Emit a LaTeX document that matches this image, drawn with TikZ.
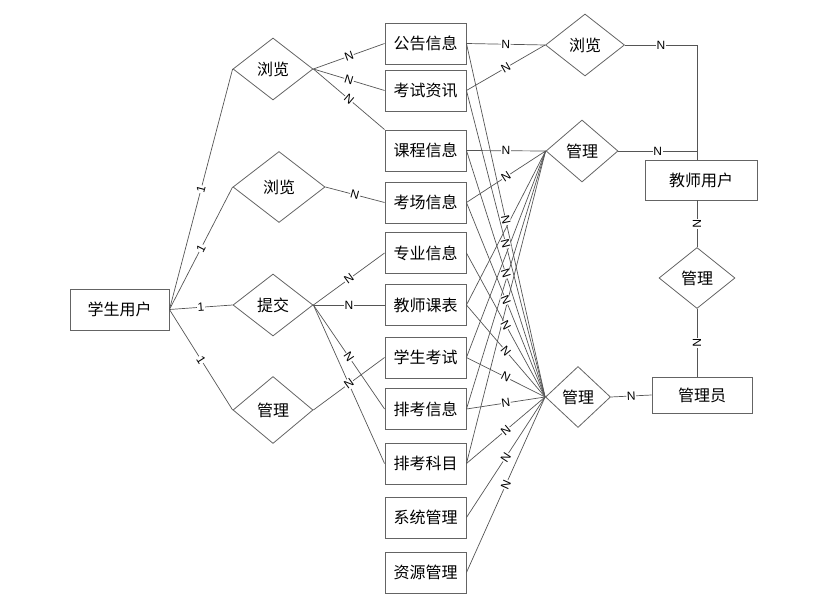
\documentclass[tikz,border=0pt]{standalone}
\usepackage{fontspec}
\setsansfont{Liberation Sans}
\newfontfamily\cjk{Noto Sans CJK SC}
\usetikzlibrary{shapes.geometric}
\definecolor{linegray}{RGB}{85,85,85}
\definecolor{boxgray}{RGB}{100,100,100}
\tikzset{
  ent/.style={draw=boxgray, line width=0.9pt, minimum width=81pt, minimum height=41pt,
    inner sep=0pt, font=\cjk\fontsize{16}{16}\selectfont},
  rel/.style={draw=boxgray, line width=0.8pt, diamond, inner sep=0pt,
    font=\cjk\fontsize{16}{16}\selectfont},
  link/.style={draw=linegray, line width=0.7pt},
  lab/.style={fill=white, inner sep=0.6pt, sloped, font=\sffamily\fontsize{12}{12}\selectfont}
}
\begin{document}
\begin{tikzpicture}[x=1pt, y=-1pt]
  \useasboundingbox (0,0) rectangle (816,609);
  % users
  \node[ent, minimum width=99pt] (stu) at (119.5,309.5) {学生用户};
  \node[ent, minimum width=112pt, minimum height=40pt] (teacher) at (701,180) {教师用户};
  \node[ent, minimum width=100pt, minimum height=36pt] (admin) at (702,395) {管理员};
  % entities
  \foreach \n/\y/\t in {e1/43.5/公告信息, e2/90.5/考试资讯, e3/150.5/课程信息,
      e4/202.5/考场信息, e5/253/专业信息, e6/305/教师课表, e7/357.5/学生考试,
      e8/409/排考信息, e9/463.5/排考科目, e10/517.5/系统管理, e11/572.5/资源管理}
    \node[ent] (\n) at (425.5,\y) {\t};
  % relations
  \node[rel, minimum width=80pt, minimum height=62pt] (b1) at (273,69) {浏览};
  \node[rel, minimum width=92pt, minimum height=71pt] (b2) at (279,187) {浏览};
  \node[rel, minimum width=80pt, minimum height=62pt] (sub) at (273,305) {提交};
  \node[rel, minimum width=80pt, minimum height=67pt] (m1) at (273,410) {管理};
  \node[rel, minimum width=79pt, minimum height=62pt] (b3) at (585,45) {浏览};
  \node[rel, minimum width=72pt, minimum height=62pt] (m2) at (582,151) {管理};
  \node[rel, minimum width=65pt, minimum height=61pt] (m3) at (578,397) {管理};
  \node[rel, minimum width=76pt, minimum height=61pt] (m4) at (697,278) {管理};
  \coordinate (tj) at ([xshift=-4pt]teacher.north);
  % student side
  \foreach \r in {b1,b2,sub,m1}
    \draw[link] (stu.east) -- node[lab]{1} (\r.west);
  \draw[link] (b1.east) -- node[lab]{N} (e1.west);
  \draw[link] (b1.east) -- node[lab]{N} (e2.west);
  \draw[link] (b1.east) -- node[lab]{N} (e3.north west);
  \draw[link] (b2.east) -- node[lab]{N} (e4.west);
  \foreach \e in {e5,e6,e8,e9}
    \draw[link] (sub.east) -- node[lab]{N} (\e.west);
  \draw[link] (m1.east) -- node[lab]{N} (e7.west);
  % teacher side
  \draw[link] (e1.east) -- node[lab]{N} (b3.west);
  \draw[link] (e2.east) -- node[lab]{N} (b3.west);
  \draw[link] (e3.east) -- node[lab]{N} (m2.west);
  \draw[link] (e4.east) -- node[lab]{N} (m2.west);
  \foreach \e in {e6,e7,e8,e9}
    \draw[link] (\e.east) -- (m2.west);
  \draw[link] (b3.east) -| node[lab, pos=0.25]{N} (tj);
  \draw[link] (m2.east) -- node[lab]{N} (m2.east -| tj);
  \draw[link] ([xshift=-4pt]teacher.south) -- node[lab]{N} (m4.north);
  \draw[link] (m4.south) -- node[lab]{N} (m4.south |- admin.north);
  % admin side
  \foreach \e in {e1,e2,e3,e4,e5,e6,e7,e8,e9,e10,e11}
    \draw[link] (\e.east) -- node[lab]{N} (m3.west);
  \draw[link] (m3.east) -- node[lab]{N} (admin.west);
\end{tikzpicture}
\end{document}
